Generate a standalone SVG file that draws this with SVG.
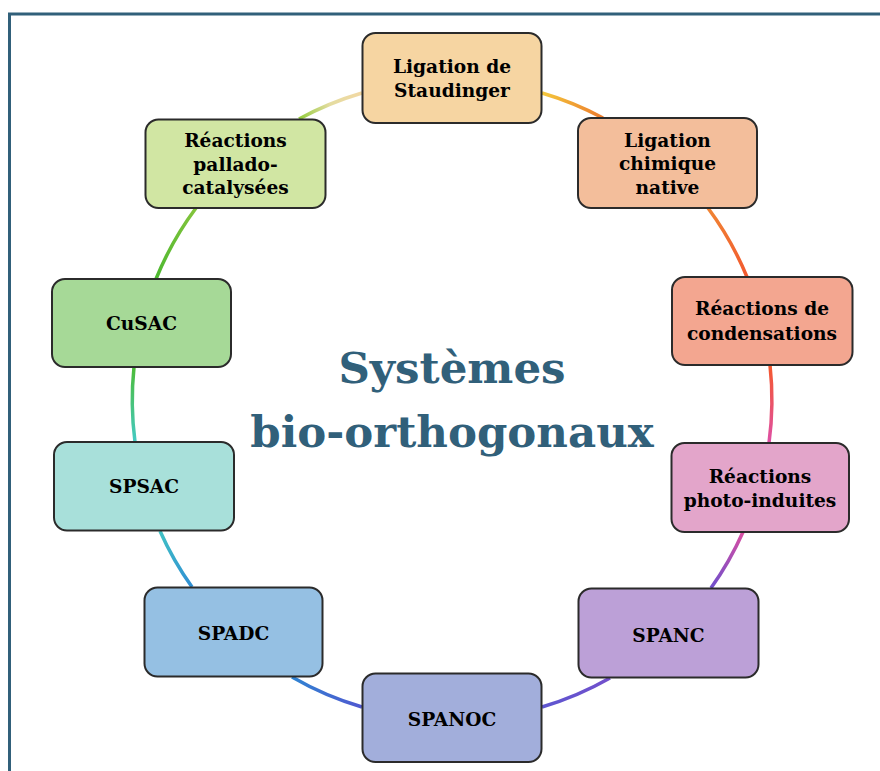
<svg xmlns="http://www.w3.org/2000/svg" width="880" height="771" viewBox="0 0 880 771">
<style>
.box{stroke:#2b2b2b;stroke-width:2}
.lbl{font-family:"DejaVu Serif","Liberation Serif",serif;font-weight:bold;font-size:18.6px;fill:#000;text-anchor:middle}
.title{font-family:"DejaVu Serif","Liberation Serif",serif;font-weight:bold;font-size:43.5px;fill:#31607a;text-anchor:middle}
.arc{fill:none;stroke-width:3.5;stroke-linecap:butt}
</style>
<defs>
<linearGradient id="ga" gradientUnits="userSpaceOnUse" x1="542" y1="93" x2="603" y2="118"><stop offset="0" stop-color="#f4c83c"/><stop offset="1" stop-color="#ec7a2c"/></linearGradient>
<linearGradient id="gb" gradientUnits="userSpaceOnUse" x1="708" y1="208" x2="747" y2="277"><stop offset="0" stop-color="#f08534"/><stop offset="1" stop-color="#f2582e"/></linearGradient>
<linearGradient id="gc" gradientUnits="userSpaceOnUse" x1="770" y1="365" x2="769" y2="443"><stop offset="0" stop-color="#f5582c"/><stop offset="1" stop-color="#de4fa6"/></linearGradient>
<linearGradient id="gd" gradientUnits="userSpaceOnUse" x1="743" y1="532" x2="711" y2="588"><stop offset="0" stop-color="#d94ea2"/><stop offset="1" stop-color="#6e4fcc"/></linearGradient>
<linearGradient id="ge" gradientUnits="userSpaceOnUse" x1="610" y1="678" x2="542" y2="707"><stop offset="0" stop-color="#7350cc"/><stop offset="1" stop-color="#5d56d0"/></linearGradient>
<linearGradient id="gf" gradientUnits="userSpaceOnUse" x1="362" y1="707" x2="292" y2="677"><stop offset="0" stop-color="#5058d0"/><stop offset="1" stop-color="#2f84d2"/></linearGradient>
<linearGradient id="gg" gradientUnits="userSpaceOnUse" x1="192" y1="587" x2="160" y2="531"><stop offset="0" stop-color="#2f8ed4"/><stop offset="1" stop-color="#40c2c4"/></linearGradient>
<linearGradient id="gh" gradientUnits="userSpaceOnUse" x1="135" y1="442" x2="134" y2="367"><stop offset="0" stop-color="#44cac4"/><stop offset="1" stop-color="#4cbc38"/></linearGradient>
<linearGradient id="gi" gradientUnits="userSpaceOnUse" x1="156" y1="279" x2="196" y2="208"><stop offset="0" stop-color="#4cb830"/><stop offset="1" stop-color="#84c43c"/></linearGradient>
<linearGradient id="gj" gradientUnits="userSpaceOnUse" x1="299" y1="119" x2="362" y2="93"><stop offset="0" stop-color="#92cc3c"/><stop offset="0.5" stop-color="#e4dca0"/><stop offset="1" stop-color="#f2d8a4"/></linearGradient>
</defs>
<rect width="880" height="771" fill="#ffffff"/>
<path d="M9.5,771 V14 H880" fill="none" stroke="#31607a" stroke-width="3"/>
<g id="connectors">
<path class="arc" stroke="url(#ga)" d="M542,93 A320,320 0 0 1 603,118"/>
<path class="arc" stroke="url(#gb)" d="M708,208 A320,320 0 0 1 747,277"/>
<path class="arc" stroke="url(#gc)" d="M770,365 A320,320 0 0 1 769,443"/>
<path class="arc" stroke="url(#gd)" d="M743,532 A320,320 0 0 1 711,588"/>
<path class="arc" stroke="url(#ge)" d="M610,678 A320,320 0 0 1 542,707"/>
<path class="arc" stroke="url(#gf)" d="M362,707 A320,320 0 0 1 292,677"/>
<path class="arc" stroke="url(#gg)" d="M192,587 A320,320 0 0 1 160,531"/>
<path class="arc" stroke="url(#gh)" d="M135,442 A320,320 0 0 1 134,367"/>
<path class="arc" stroke="url(#gi)" d="M156,279 A320,320 0 0 1 196,208"/>
<path class="arc" stroke="url(#gj)" d="M299,119 A320,320 0 0 1 362,93"/>
</g>
<g id="title">
<text class="title" x="452" y="383">Systèmes</text>
<text class="title" x="452" y="447">bio-orthogonaux</text>
</g>
<g id="n-staudinger">
<rect class="box" x="362.5" y="33" width="179" height="90" rx="13" fill="#f6d5a2"/>
<text class="lbl" x="452" y="73">Ligation de</text>
<text class="lbl" x="452" y="96.5">Staudinger</text>
</g>
<g id="n-chimique">
<rect class="box" x="578" y="118" width="179" height="90" rx="13" fill="#f3be9b"/>
<text class="lbl" x="667.5" y="146.5">Ligation</text>
<text class="lbl" x="667.5" y="170">chimique</text>
<text class="lbl" x="667.5" y="193.5">native</text>
</g>
<g id="n-condensations">
<rect class="box" x="672" y="277" width="180.5" height="88" rx="13" fill="#f3a690"/>
<text class="lbl" x="762" y="315">Réactions de</text>
<text class="lbl" x="762" y="339.5">condensations</text>
</g>
<g id="n-photo">
<rect class="box" x="671.5" y="443" width="177.5" height="89" rx="13" fill="#e3a5ca"/>
<text class="lbl" x="760" y="482.5">Réactions</text>
<text class="lbl" x="760" y="507">photo-induites</text>
</g>
<g id="n-spanc">
<rect class="box" x="578.5" y="588.5" width="180" height="89" rx="13" fill="#bca0d7"/>
<text class="lbl" x="668.5" y="641.5">SPANC</text>
</g>
<g id="n-spanoc">
<rect class="box" x="362.5" y="673.5" width="179" height="88.5" rx="13" fill="#a2aedb"/>
<text class="lbl" x="452" y="726">SPANOC</text>
</g>
<g id="n-spadc">
<rect class="box" x="144.5" y="587.5" width="178" height="89" rx="13" fill="#95c0e3"/>
<text class="lbl" x="233.5" y="640">SPADC</text>
</g>
<g id="n-spsac">
<rect class="box" x="54" y="442" width="180" height="88.5" rx="13" fill="#a8e0da"/>
<text class="lbl" x="144" y="493">SPSAC</text>
</g>
<g id="n-cusac">
<rect class="box" x="52" y="279" width="179" height="88" rx="13" fill="#a6d997"/>
<text class="lbl" x="141.5" y="330">CuSAC</text>
</g>
<g id="n-pallado">
<rect class="box" x="145.5" y="119.5" width="180" height="88.5" rx="13" fill="#d1e6a3"/>
<text class="lbl" x="235.5" y="146.5">Réactions</text>
<text class="lbl" x="235.5" y="170.5">pallado-</text>
<text class="lbl" x="235.5" y="194">catalysées</text>
</g>
</svg>
